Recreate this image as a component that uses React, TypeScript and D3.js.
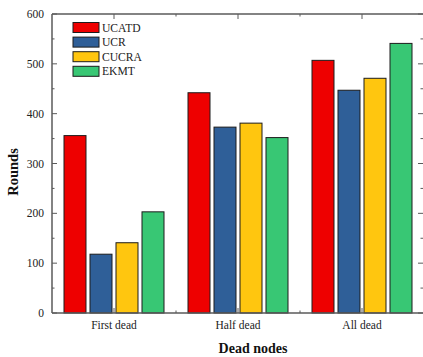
import React, { useRef, useEffect } from 'react';
import * as d3 from 'd3';

// categories and series
const categories = ['First dead', 'Half dead', 'All dead'];
const seriesNames = ['UCATD', 'UCR', 'CUCRA', 'EKMT'];
const seriesColors = ['#ee0000', '#2f5f98', '#ffc60f', '#38c774'];

// values per series, one per category
const ucatd = [356, 442, 507];
const ucr = [118, 373, 447];
const cucra = [141, 381, 471];
const ekmt = [203, 352, 541];
const seriesValues = [ucatd, ucr, cucra, ekmt];

const yTicks = [0, 100, 200, 300, 400, 500, 600];

const App = () => {
    const chartRef = useRef<SVGSVGElement | null>(null);

    useEffect(() => {
        const width = 423;
        const height = 357;
        const left = 52, right = 424, top = 14, bottom = 313;
        const font = '"Liberation Serif", "Times New Roman", serif';
        const axisColor = '#5a5a5a';

        const svg = d3.select(chartRef.current);
        svg.selectAll('*').remove();
        svg.attr('width', width).attr('height', height);

        // Scales
        const xScale = d3.scaleLinear().domain([0.5, 3.5]).range([left, right]);
        const yScale = d3.scaleLinear().domain([0, 600]).range([bottom, top]);
        const inner = d3.scaleBand<string>()
            .domain(seriesNames)
            .range([-50, 50])
            .paddingInner(0.154);

        // Bars
        seriesValues.forEach((vals, s) => {
            svg.append('g')
                .selectAll('rect')
                .data(vals)
                .enter().append('rect')
                .attr('x', (d, i) => xScale(i + 1) + (inner(seriesNames[s]) as number))
                .attr('y', d => yScale(d))
                .attr('width', inner.bandwidth())
                .attr('height', d => yScale(0) - yScale(d))
                .attr('fill', seriesColors[s])
                .attr('stroke', '#1c1c1c')
                .attr('stroke-width', 1);
        });

        // Frame (right spine falls just outside the picture)
        const frame = svg.append('g').attr('stroke', axisColor).attr('stroke-width', 1.5);
        frame.append('line').attr('x1', left).attr('x2', width + 5).attr('y1', bottom).attr('y2', bottom);
        frame.append('line').attr('x1', left).attr('x2', width + 5).attr('y1', top).attr('y2', top);
        frame.append('line').attr('x1', left).attr('x2', left).attr('y1', top).attr('y2', bottom);

        // Y ticks (inward, both sides) with minor ticks
        const ticks = svg.append('g').attr('stroke', axisColor).attr('stroke-width', 1);
        d3.range(0, 601, 50).forEach(v => {
            const len = v % 100 === 0 ? 5 : 2.5;
            const y = yScale(v);
            ticks.append('line').attr('x1', left).attr('x2', left + len).attr('y1', y).attr('y2', y);
            ticks.append('line').attr('x1', width + 1).attr('x2', width - len).attr('y1', y).attr('y2', y);
        });

        // X ticks (inward, top and bottom)
        d3.range(1, 3.01, 0.5).forEach(v => {
            const len = Number.isInteger(v) ? 5 : 2.5;
            const x = xScale(v);
            ticks.append('line').attr('x1', x).attr('x2', x).attr('y1', bottom).attr('y2', bottom - len);
            ticks.append('line').attr('x1', x).attr('x2', x).attr('y1', top).attr('y2', top + len);
        });

        // Y tick labels
        svg.append('g')
            .selectAll('text')
            .data(yTicks)
            .enter().append('text')
            .attr('x', left - 8)
            .attr('y', d => yScale(d))
            .attr('dy', '0.35em')
            .attr('text-anchor', 'end')
            .attr('font-family', font)
            .attr('font-size', 11.5)
            .attr('fill', '#222')
            .text(d => d);

        // Category labels
        svg.append('g')
            .selectAll('text')
            .data(categories)
            .enter().append('text')
            .attr('x', (d, i) => xScale(i + 1))
            .attr('y', 329)
            .attr('text-anchor', 'middle')
            .attr('font-family', font)
            .attr('font-size', 11.5)
            .attr('fill', '#222')
            .text(d => d);

        // Axis titles
        svg.append('text')
            .attr('x', 253)
            .attr('y', 353)
            .attr('text-anchor', 'middle')
            .attr('font-family', font)
            .attr('font-size', 14)
            .attr('font-weight', 'bold')
            .attr('fill', '#111')
            .text('Dead nodes');

        svg.append('text')
            .attr('transform', 'translate(18,172) rotate(-90)')
            .attr('text-anchor', 'middle')
            .attr('font-family', font)
            .attr('font-size', 14.5)
            .attr('font-weight', 'bold')
            .attr('fill', '#111')
            .text('Rounds');

        // Legend
        const legend = svg.append('g').attr('transform', 'translate(73,22.5)');
        seriesNames.forEach((name, i) => {
            legend.append('rect')
                .attr('x', 0)
                .attr('y', i * 14.6)
                .attr('width', 26)
                .attr('height', 10)
                .attr('fill', seriesColors[i])
                .attr('stroke', '#1c1c1c')
                .attr('stroke-width', 1);
            legend.append('text')
                .attr('x', 29)
                .attr('y', i * 14.6 + 5)
                .attr('dy', '0.35em')
                .attr('font-family', font)
                .attr('font-size', 11.6)
                .attr('fill', '#222')
                .text(name);
        });
    }, []);

    return (
        <svg
            ref={chartRef}
            style={{ position: 'absolute', left: 0, top: 0, background: '#fff' }}
        />
    );
};

export default App;
